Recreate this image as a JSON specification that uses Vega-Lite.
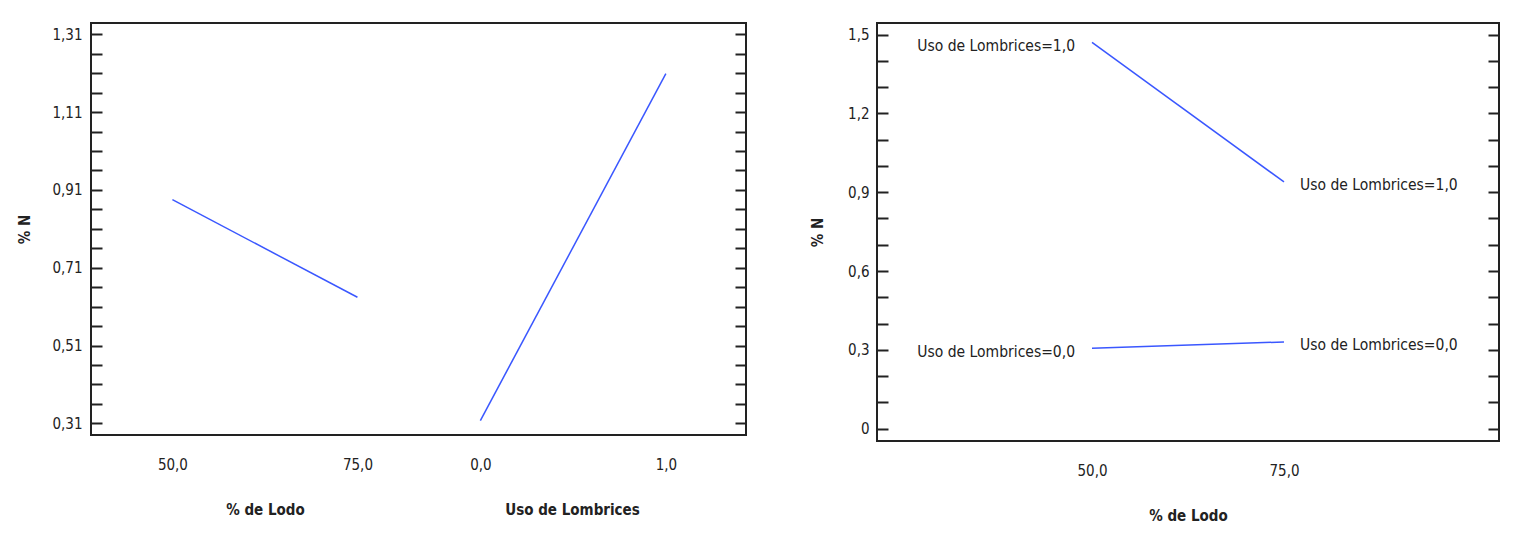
{
  "$schema": "https://vega.github.io/schema/vega-lite/v6.json",
  "padding": {"left": 16, "top": 22, "right": 5, "bottom": 5},
  "spacing": 61,
  "datasets": {
    "lodo": [{"Lodo": 50, "N": 0.885}, {"Lodo": 75, "N": 0.634}],
    "lomb": [{"Lombrices": 0, "N": 0.317}, {"Lombrices": 1, "N": 1.209}],
    "inter": [
      {"Lodo": 50, "Lombrices": 0, "N": 0.306, "grupo": "Uso de Lombrices=0,0"},
      {"Lodo": 75, "Lombrices": 0, "N": 0.330, "grupo": "Uso de Lombrices=0,0"},
      {"Lodo": 50, "Lombrices": 1, "N": 1.470, "grupo": "Uso de Lombrices=1,0"},
      {"Lodo": 75, "Lombrices": 1, "N": 0.939, "grupo": "Uso de Lombrices=1,0"}
    ]
  },
  "hconcat": [
    {
      "width": 655,
      "height": 412,
      "layer": [
        {
          "data": {"name": "lodo"},
          "mark": {"type": "line", "color": "#3a57ff", "strokeWidth": 1.5},
          "encoding": {
            "x": {
              "field": "Lodo", "type": "quantitative",
              "scale": {"domain": [39.0, 127.5], "nice": false, "zero": false},
              "axis": {
                "orient": "bottom", "values": [50, 75], "title": "% de Lodo",
                "labelExpr": "replace(format(datum.value,'.1f'),'.',',')",
                "ticks": false, "domain": false, "grid": false,
                "labelBaseline": "middle", "labelPadding": 29,
                "titleX": 174, "titleY": 74, "titleBaseline": "middle"
              }
            },
            "y": {
              "field": "N", "type": "quantitative",
              "scale": {"domain": [0.28, 1.339], "nice": false, "zero": false},
              "axis": {
                "orient": "left", "title": "% N", "grid": false, "domain": false,
                "values": [0.31,0.36,0.41,0.46,0.51,0.56,0.61,0.66,0.71,0.76,0.81,0.86,0.91,0.96,1.01,1.06,1.11,1.16,1.21,1.26,1.31],
                "labelExpr": "(round(datum.value*100)-31)%20==0 ? replace(format(datum.value,'.2f'),'.',',') : ''",
                "ticks": true, "tickSize": -11, "labelPadding": 20, "labelFlush": false, "labelOverlap": false,
                "titleX": -67, "titleY": 206, "titleBaseline": "middle",
                "encode": {"ticks": {"update": {"x2": {"signal": "(round(datum.value*100)-31)%20==0 ? 11 : 7"}}}}
              }
            }
          }
        },
        {
          "data": {"name": "lomb"},
          "mark": {"type": "line", "color": "#3a57ff", "strokeWidth": 1.5},
          "encoding": {
            "x": {
              "field": "Lombrices", "type": "quantitative",
              "scale": {"domain": [-2.099, 1.432], "nice": false, "zero": false},
              "axis": {
                "orient": "bottom", "values": [0, 1], "title": "Uso de Lombrices",
                "labelExpr": "replace(format(datum.value,'.1f'),'.',',')",
                "ticks": false, "domain": false, "grid": false,
                "labelBaseline": "middle", "labelPadding": 29,
                "titleX": 481, "titleY": 74, "titleBaseline": "middle"
              }
            },
            "y": {
              "field": "N", "type": "quantitative",
              "axis": {
                "orient": "right", "title": null, "labels": false, "grid": false, "domain": false,
                "values": [0.31,0.36,0.41,0.46,0.51,0.56,0.61,0.66,0.71,0.76,0.81,0.86,0.91,0.96,1.01,1.06,1.11,1.16,1.21,1.26,1.31],
                "ticks": true, "tickSize": -11,
                "encode": {"ticks": {"update": {"x2": {"signal": "(round(datum.value*100)-31)%20==0 ? -11 : -7"}}}}
              }
            }
          }
        }
      ],
      "resolve": {"scale": {"x": "independent"}, "axis": {"x": "independent", "y": "independent"}}
    },
    {
      "width": 622,
      "height": 418,
      "data": {"name": "inter"},
      "layer": [
        {
          "mark": {"type": "line", "color": "#3a57ff", "strokeWidth": 1.5},
          "encoding": {
            "x": {
              "field": "Lodo", "type": "quantitative",
              "scale": {"domain": [22, 103], "nice": false, "zero": false},
              "axis": {
                "orient": "bottom", "values": [50, 75], "title": "% de Lodo",
                "labelExpr": "replace(format(datum.value,'.1f'),'.',',')",
                "ticks": false, "domain": false, "grid": false,
                "labelBaseline": "middle", "labelPadding": 29,
                "titleY": 74, "titleBaseline": "middle"
              }
            },
            "y": {
              "field": "N", "type": "quantitative",
              "scale": {"domain": [-0.047, 1.544], "nice": false, "zero": false},
              "axis": {
                "orient": "left", "title": "% N", "grid": false, "domain": false,
                "values": [0,0.1,0.2,0.3,0.4,0.5,0.6,0.7,0.8,0.9,1.0,1.1,1.2,1.3,1.4,1.5],
                "labelExpr": "round(datum.value*10)%3==0 ? (datum.value==0 ? '0' : replace(format(datum.value,'.1f'),'.',',')) : ''",
                "ticks": true, "tickSize": -11, "labelPadding": 19, "labelFlush": false, "labelOverlap": false,
                "titleX": -60, "titleY": 209, "titleBaseline": "middle",
                "encode": {"ticks": {"update": {"x2": {"signal": "round(datum.value*10)%3==0 ? 11 : 7"}}}}
              }
            },
            "detail": {"field": "Lombrices", "type": "nominal"}
          }
        },
        {
          "transform": [{"filter": "datum.Lodo == 50"}],
          "mark": {"type": "text", "align": "right", "baseline": "middle", "dx": -17, "dy": 4, "font": "DejaVu Sans Condensed, DejaVu Sans", "fontSize": 15.5, "color": "#222"},
          "encoding": {
            "x": {"field": "Lodo", "type": "quantitative", "axis": null},
            "y": {
              "field": "N", "type": "quantitative",
              "axis": {
                "orient": "right", "title": null, "labels": false, "grid": false, "domain": false,
                "values": [0,0.1,0.2,0.3,0.4,0.5,0.6,0.7,0.8,0.9,1.0,1.1,1.2,1.3,1.4,1.5],
                "ticks": true, "tickSize": -11,
                "encode": {"ticks": {"update": {"x2": {"signal": "round(datum.value*10)%3==0 ? -11 : -7"}}}}
              }
            },
            "text": {"field": "grupo", "type": "nominal"}
          }
        },
        {
          "transform": [{"filter": "datum.Lodo == 75"}],
          "mark": {"type": "text", "align": "left", "baseline": "middle", "dx": 16, "dy": 3, "font": "DejaVu Sans Condensed, DejaVu Sans", "fontSize": 15.5, "color": "#222"},
          "encoding": {
            "x": {"field": "Lodo", "type": "quantitative", "axis": null},
            "y": {"field": "N", "type": "quantitative", "axis": null},
            "text": {"field": "grupo", "type": "nominal"}
          }
        }
      ],
      "resolve": {"axis": {"x": "independent", "y": "independent"}}
    }
  ],
  "config": {
    "view": {"stroke": "#222", "strokeWidth": 2},
    "axis": {
      "labelFont": "DejaVu Sans Condensed, DejaVu Sans",
      "labelFontSize": 15,
      "labelColor": "#222",
      "titleFont": "DejaVu Sans Condensed, DejaVu Sans",
      "titleFontSize": 15,
      "titleFontWeight": "bold",
      "titleColor": "#222",
      "tickColor": "#222",
      "tickWidth": 2
    }
  }
}
